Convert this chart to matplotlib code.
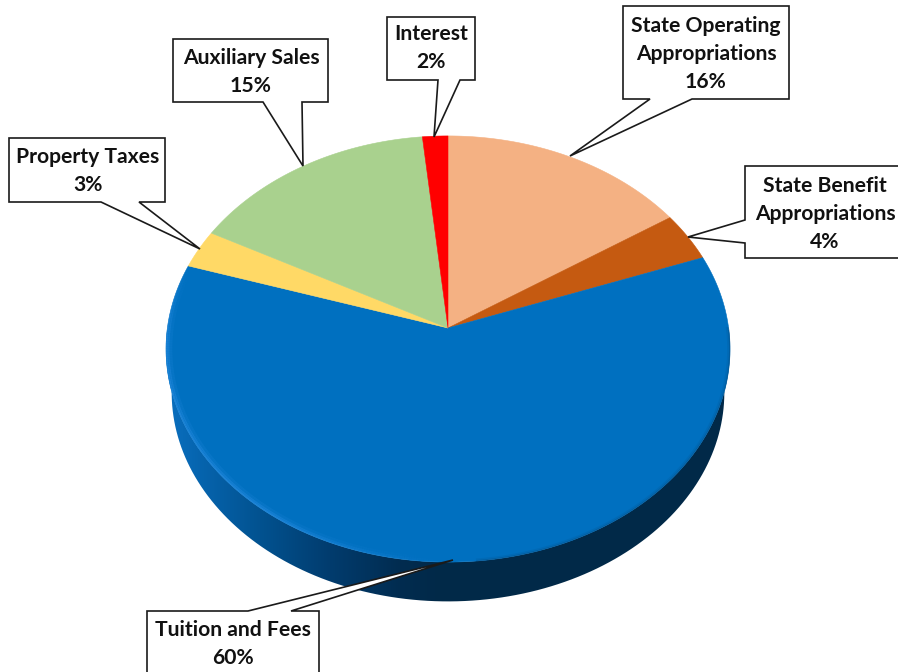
import numpy as np
import matplotlib
matplotlib.use("Agg")
import matplotlib.pyplot as plt
from matplotlib.collections import LineCollection
from matplotlib.patches import PathPatch, Polygon
from matplotlib.path import Path

# share of revenue, clockwise from 12 o'clock (slice sizes)
categories = ["State Operating\nAppropriations", "State Benefit\nAppropriations",
              "Tuition and Fees", "Property Taxes", "Auxiliary Sales", "Interest"]
shown_pct = [16, 4, 60, 3, 15, 2]
values = [15.7, 3.7, 60.5, 2.9, 15.6, 1.6]
colors = ["#F4B183", "#C55A11", "#0070C0", "#FFD966", "#A9D18E", "#FF0000"]

# callout boxes in pixels: box outline, tail base on the box, tail tip, label centre
callouts = [
    ((623, 6, 789, 99), "bottom", (650, 692), (570, 156), (706, 54)),
    ((745, 166, 906, 258), "left", (220, 243), (688, 237), (825, 214)),
    ((147, 611, 319, 682), "top", (248, 291), (453, 560), (233, 644)),
    ((9, 138, 165, 202), "bottom", (101, 139), (200, 249), (88, 171)),
    ((173, 39, 328, 102), "bottom", (263, 302), (303, 166), (251, 72)),
    ((387, 17, 475, 80), "bottom", (438, 460), (434, 137), (431, 48)),
]

APEX = (448, 328)


def rim(theta, scale=1.0, drop=0.0):
    # tilted disc seen in perspective, theta clockwise from the top
    u, v = np.sin(theta), np.cos(theta)
    w = 1 + 0.0986 * v
    return (APEX[0] + scale * 280.6 * u / w,
            APEX[1] + drop - scale * 211 * v / w)


fig = plt.figure(figsize=(8.98, 6.72), dpi=100)
ax = fig.add_axes([0, 0, 1, 1])
ax.set_xlim(0, 898)
ax.set_ylim(672, 0)
ax.axis("off")

# side wall, only the part below the top face shows
t = np.linspace(np.pi * 0.42, np.pi * 1.58, 300)
top_x, top_y = rim(t)
low_x, low_y = rim(t, 0.98, 44)
wall_xy = np.r_[np.c_[top_x, top_y], np.c_[low_x, low_y][::-1]]
wall = PathPatch(Path(np.r_[wall_xy, wall_xy[:1]]), fc="none", ec="none")
ax.add_patch(wall)
gx = np.array([165, 200, 260, 330, 400, 440, 735])
stops = np.array([[10, 112, 192], [6, 100, 174], [2, 82, 144],
                  [1, 60, 110], [1, 44, 80], [1, 41, 72], [1, 41, 72]]) / 255
xs = np.linspace(165, 735, 570)
grad = np.stack([np.interp(xs, gx, stops[:, i]) for i in range(3)], axis=-1)[None, :, :]
im = ax.imshow(grad, extent=(165, 735, 610, 330), aspect="auto", zorder=1)
im.set_clip_path(wall)
ax.set_xlim(0, 898)
ax.set_ylim(672, 0)

# top face
edges = np.r_[0, np.cumsum(values)] / np.sum(values) * 2 * np.pi
for start, stop, color in zip(edges[:-1], edges[1:], colors):
    a = np.linspace(start, stop, 200)
    x, y = rim(a)
    ax.fill(np.r_[APEX[0], x], np.r_[APEX[1], y], fc=color, ec=color, lw=0.4, zorder=2)

# bevel: soft light along the lower left rim, soft dark along the lower right
t = np.linspace(np.pi * 1.0, np.pi * 1.6, 240)
for inset, lw, strength in [(0.998, 1.2, 0.42), (0.993, 2.0, 0.3), (0.985, 3.0, 0.14)]:
    x, y = rim(t, inset)
    segs = np.stack([np.c_[x[:-1], y[:-1]], np.c_[x[1:], y[1:]]], axis=1)
    fade = np.clip((t[:-1] - np.pi * 1.0) / (np.pi * 0.2), 0, 1) * strength
    fade = fade * np.clip((np.pi * 1.6 - t[:-1]) / (np.pi * 0.12), 0, 1)
    rgba = np.c_[np.tile([0.2, 0.58, 0.92], (len(fade), 1)), fade]
    ax.add_collection(LineCollection(segs, colors=rgba, linewidths=lw, zorder=3))
t = np.linspace(np.pi * 0.5, np.pi * 0.97, 120)
for inset, lw, alpha in [(0.999, 1.0, 0.4), (0.994, 1.6, 0.15)]:
    x, y = rim(t, inset)
    ax.plot(x, y, color="#024a80", lw=lw, alpha=alpha, zorder=3)

# callouts
for (x0, y0, x1, y1), side, base, tip, centre in callouts:
    if side == "bottom":
        pts = [(x0, y0), (x1, y0), (x1, y1), (base[1], y1), tip, (base[0], y1), (x0, y1)]
    elif side == "top":
        pts = [(x0, y0), (base[0], y0), tip, (base[1], y0), (x1, y0), (x1, y1), (x0, y1)]
    else:
        pts = [(x0, y0), (x1, y0), (x1, y1), (x0, y1), (x0, base[1]), tip, (x0, base[0])]
    ax.add_patch(Polygon(pts, closed=True, fc="white", ec="#1a1a1a", lw=1.2,
                         joinstyle="miter", zorder=4))

for cat, pct, (box, side, base, tip, centre) in zip(categories, shown_pct, callouts):
    ax.text(centre[0], centre[1], f"{cat}\n{pct}%", ha="center", va="center",
            family="Lato", weight="bold", fontsize=15.2, color="#111111",
            linespacing=1.52, zorder=5)

fig.savefig("out.png", dpi=100)
